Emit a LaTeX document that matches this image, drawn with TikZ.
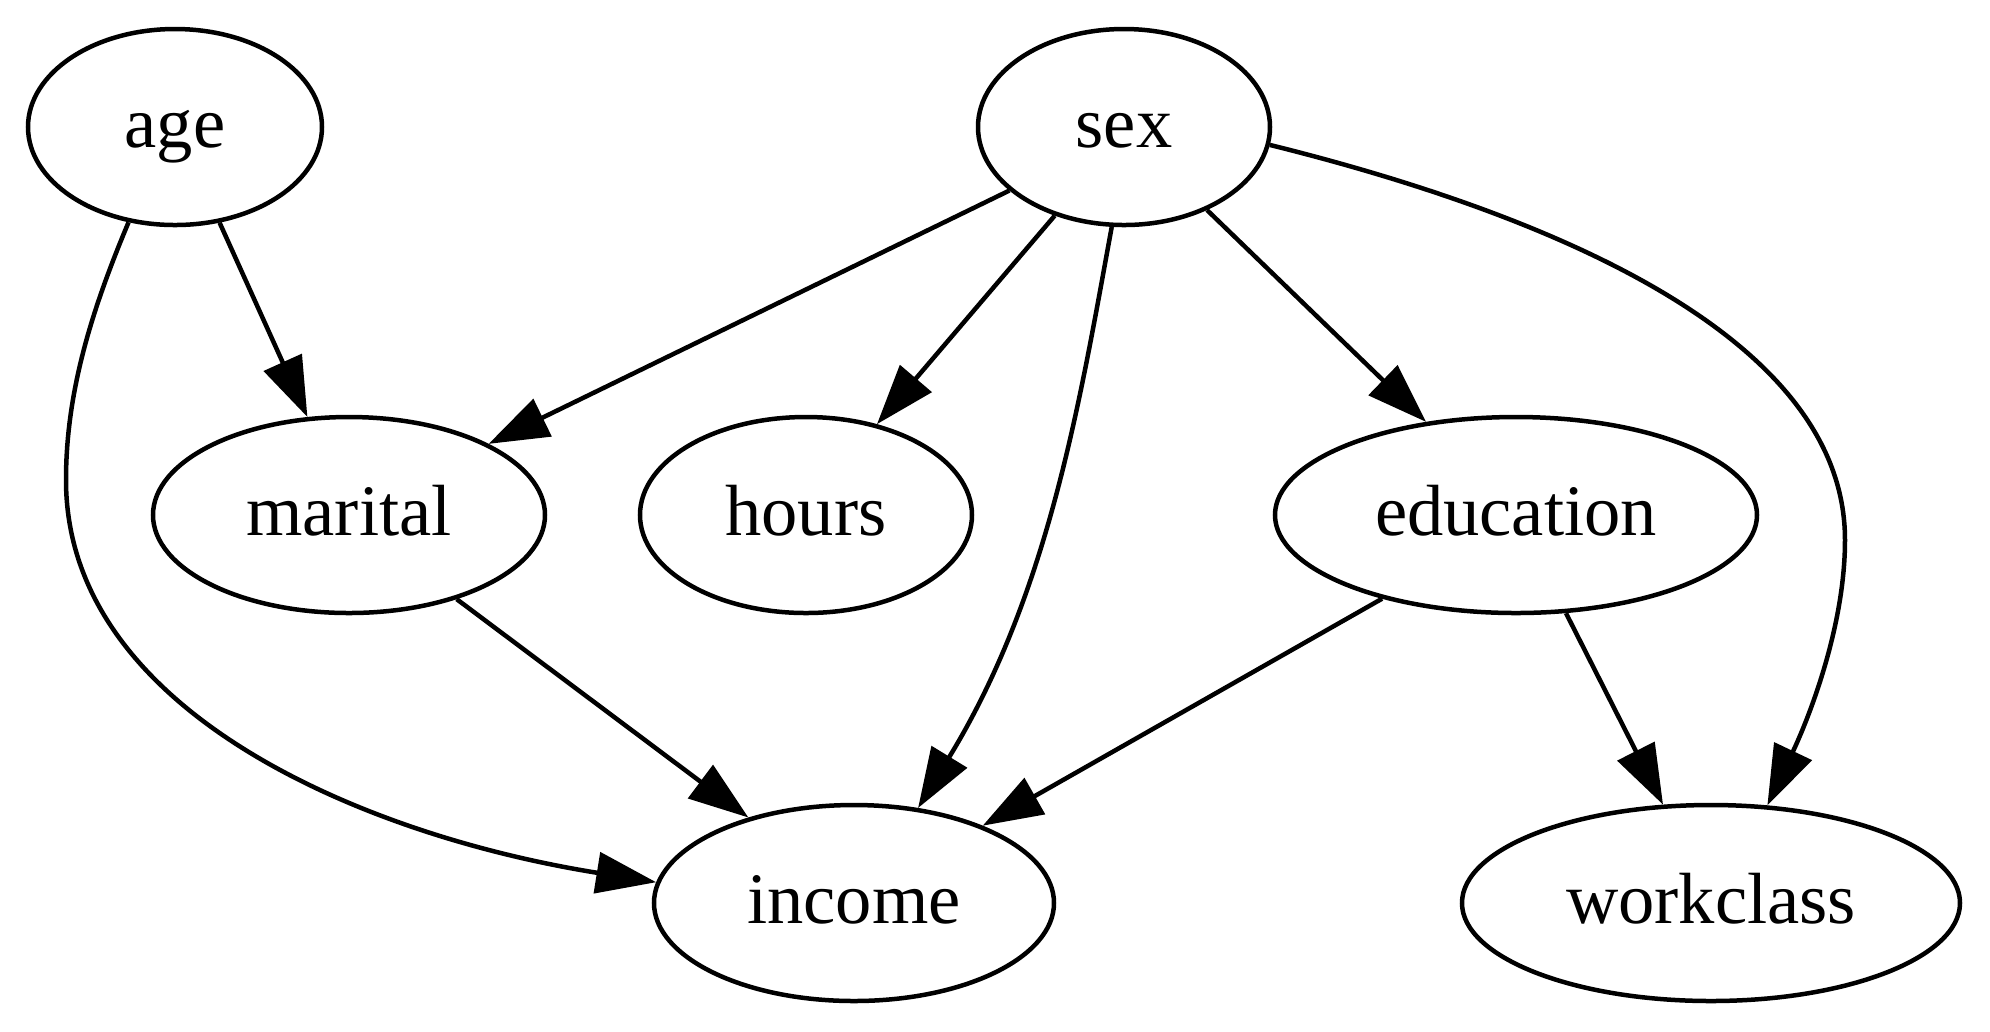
\documentclass[tikz,border=0pt]{standalone}
\usepackage{fontspec}
\setmainfont{Liberation Serif}
\usetikzlibrary{shapes.geometric,arrows.meta}
\tikzset{
  var/.style={draw, ellipse, line width=0.9pt, inner sep=0pt, minimum height=39.2pt,
    font=\fontsize{14.5}{17}\selectfont, text height=10pt, text depth=2pt},
  edge/.style={line width=0.9pt, -{Triangle[length=12pt,width=8.2pt]}}
}
\begin{document}
\begin{tikzpicture}[x=0.2pt,y=-0.2pt]
\useasboundingbox (0,0) rectangle (1990,1031);
\node[var, minimum width=58.8pt] (age) at (175,127) {age};
\node[var, minimum width=58.4pt] (sex) at (1124,127) {sex};
\node[var, minimum width=78.4pt] (marital) at (349,515) {marital};
\node[var, minimum width=66.4pt] (hours) at (806,515) {hours};
\node[var, minimum width=96.4pt] (education) at (1516,515) {education};
\node[var, minimum width=80pt] (income) at (854,903) {income};
\node[var, minimum width=99.6pt] (workclass) at (1711,903) {workclass};

\draw[edge] (age.-65.4) -- (marital.113.3);
\draw[edge] (age.-116.5) .. controls (93,307) and (66,390) .. (66,480)
  .. controls (66,710) and (361,835) .. (income.174.1);
\draw[edge] (sex.-151.8) -- (marital.27.3);
\draw[edge] (sex.-128.9) -- (hours.52);
\draw[edge] (sex.-97.6) .. controls (1080,400) and (1049,594) .. (income.56.3);
\draw[edge] (sex.-45.5) -- (education.134.4);
\draw[edge] (sex.-7.75) .. controls (1560,217) and (1845,340) .. (1845,540)
  .. controls (1845,630) and (1806,724) .. (workclass.60.3);
\draw[edge] (marital.-38.6) -- (income.141);
\draw[edge] (education.-148.8) -- (income.31.4);
\draw[edge] (education.-63.9) -- (workclass.116.1);
\end{tikzpicture}
\end{document}
